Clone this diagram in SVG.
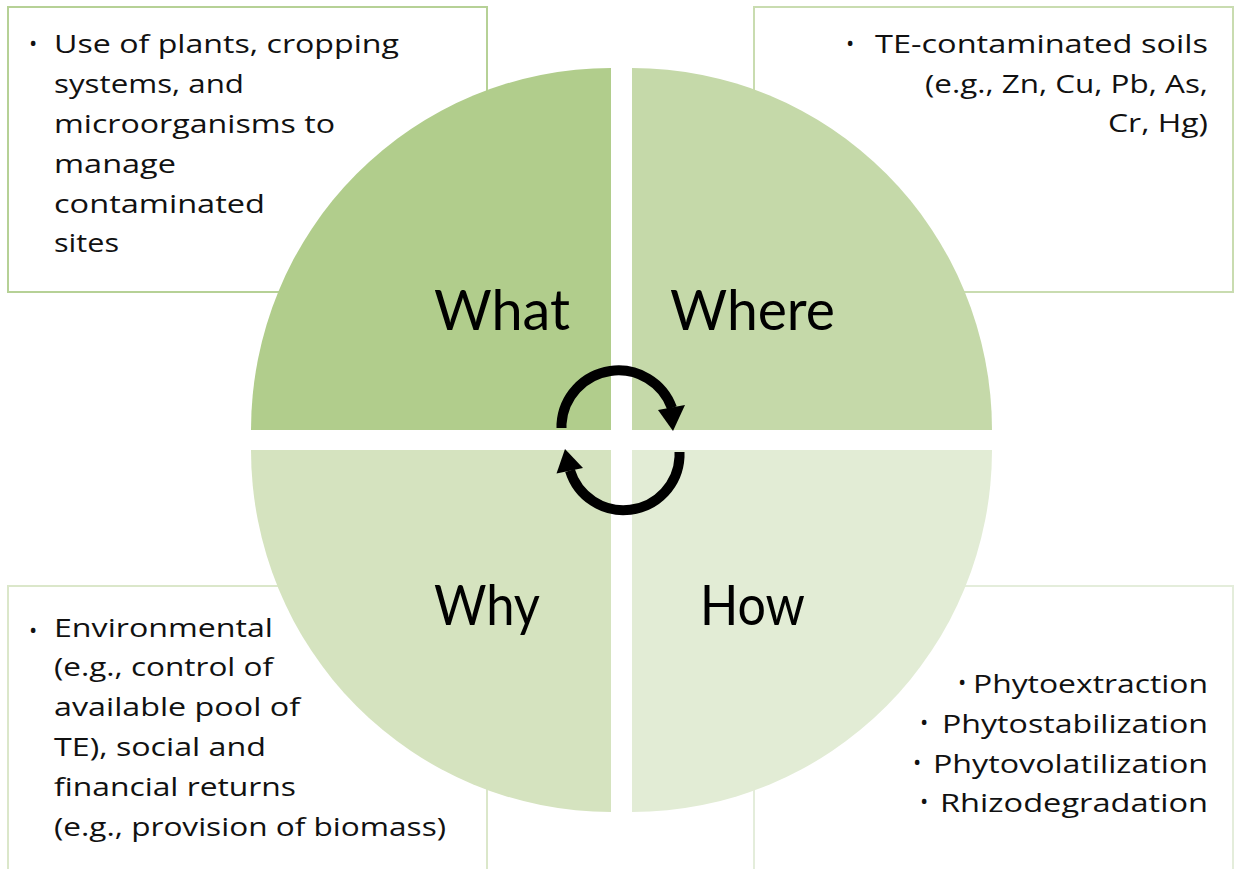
<svg xmlns="http://www.w3.org/2000/svg" width="1236" height="869" viewBox="0 0 1236 869">
<style>
.box{fill:#ffffff;stroke-width:2}
.t{font-family:"Open Sans","Noto Sans","Liberation Sans",sans-serif;font-size:26px;fill:#111111}
.b{font-family:"Open Sans","Noto Sans","Liberation Sans",sans-serif;font-size:22px;fill:#111111}
.big{font-family:"Lato","Open Sans","Liberation Sans",sans-serif;font-size:56px;fill:#000000}
.arc{fill:none;stroke:#000000;stroke-width:10;stroke-linecap:butt}
</style>
<rect width="1236" height="869" fill="#ffffff"/>
<g id="box-what">
<rect class="box" x="8" y="7" width="479" height="285" stroke="#b6d196"/>
<text class="b" x="29" y="51">•</text>
<text class="t" x="54" y="53" textLength="345" lengthAdjust="spacingAndGlyphs">Use of plants, cropping</text>
<text class="t" x="54" y="93" textLength="190" lengthAdjust="spacingAndGlyphs">systems, and</text>
<text class="t" x="54" y="133" textLength="281" lengthAdjust="spacingAndGlyphs">microorganisms to</text>
<text class="t" x="54" y="173" textLength="122" lengthAdjust="spacingAndGlyphs">manage</text>
<text class="t" x="54" y="213" textLength="211" lengthAdjust="spacingAndGlyphs">contaminated</text>
<text class="t" x="54" y="252" textLength="65" lengthAdjust="spacingAndGlyphs">sites</text>
</g>
<g id="box-where">
<rect class="box" x="754" y="7" width="479" height="285" stroke="#c9dcb0"/>
<text class="b" x="846" y="51">•</text>
<text class="t" x="875" y="53" textLength="333" lengthAdjust="spacingAndGlyphs">TE-contaminated soils</text>
<text class="t" x="925" y="93" textLength="283" lengthAdjust="spacingAndGlyphs">(e.g., Zn, Cu, Pb, As,</text>
<text class="t" x="1108" y="132" textLength="100" lengthAdjust="spacingAndGlyphs">Cr, Hg)</text>
</g>
<g id="box-why">
<rect class="box" x="8" y="586" width="479" height="300" stroke="#dbe7ca"/>
<text class="b" x="29" y="638">•</text>
<text class="t" x="54" y="637" textLength="219" lengthAdjust="spacingAndGlyphs">Environmental</text>
<text class="t" x="54" y="676" textLength="219" lengthAdjust="spacingAndGlyphs">(e.g., control of</text>
<text class="t" x="54" y="716" textLength="246" lengthAdjust="spacingAndGlyphs">available pool of</text>
<text class="t" x="54" y="756" textLength="212" lengthAdjust="spacingAndGlyphs">TE), social and</text>
<text class="t" x="54" y="796" textLength="242" lengthAdjust="spacingAndGlyphs">financial returns</text>
<text class="t" x="54" y="836" textLength="392" lengthAdjust="spacingAndGlyphs">(e.g., provision of biomass)</text>
</g>
<g id="box-how">
<rect class="box" x="754" y="586" width="479" height="300" stroke="#e4eddb"/>
<text class="b" x="958" y="690">•</text>
<text class="t" x="973" y="693" textLength="235" lengthAdjust="spacingAndGlyphs">Phytoextraction</text>
<text class="b" x="920" y="730">•</text>
<text class="t" x="942" y="733" textLength="266" lengthAdjust="spacingAndGlyphs">Phytostabilization</text>
<text class="b" x="913" y="770">•</text>
<text class="t" x="933" y="773" textLength="275" lengthAdjust="spacingAndGlyphs">Phytovolatilization</text>
<text class="b" x="920" y="809">•</text>
<text class="t" x="940" y="812" textLength="268" lengthAdjust="spacingAndGlyphs">Rhizodegradation</text>
</g>
<g id="q-what">
<path d="M611,430 L251,430 A360,362 0 0 1 611,68 Z" fill="#b1cd8c"/>
<text class="big" x="434" y="330" textLength="136" lengthAdjust="spacingAndGlyphs">What</text>
</g>
<g id="q-where">
<path d="M632,430 L632,68 A360,362 0 0 1 992,430 Z" fill="#c5d9a9"/>
<text class="big" x="670" y="330" textLength="165" lengthAdjust="spacingAndGlyphs">Where</text>
</g>
<g id="q-why">
<path d="M611,450 L611,812 A360,362 0 0 1 251,450 Z" fill="#d5e3bf"/>
<text class="big" x="434" y="625" textLength="106" lengthAdjust="spacingAndGlyphs">Why</text>
</g>
<g id="q-how">
<path d="M632,450 L992,450 A360,362 0 0 1 632,812 Z" fill="#e2ecd5"/>
<text class="big" x="700" y="625" textLength="105" lengthAdjust="spacingAndGlyphs">How</text>
</g>
<g id="connectors">
<path class="arc" d="M561.5,428 L561.5,424 A57,57 0 0 1 672,408"/>
<polygon points="658,410 685,405 673,431" fill="#000000"/>
<path class="arc" d="M679.5,452 L679.5,457 A56,56 0 0 1 570,470.5"/>
<polygon points="556.5,473.5 583,468 565,449" fill="#000000"/>
</g>
</svg>
